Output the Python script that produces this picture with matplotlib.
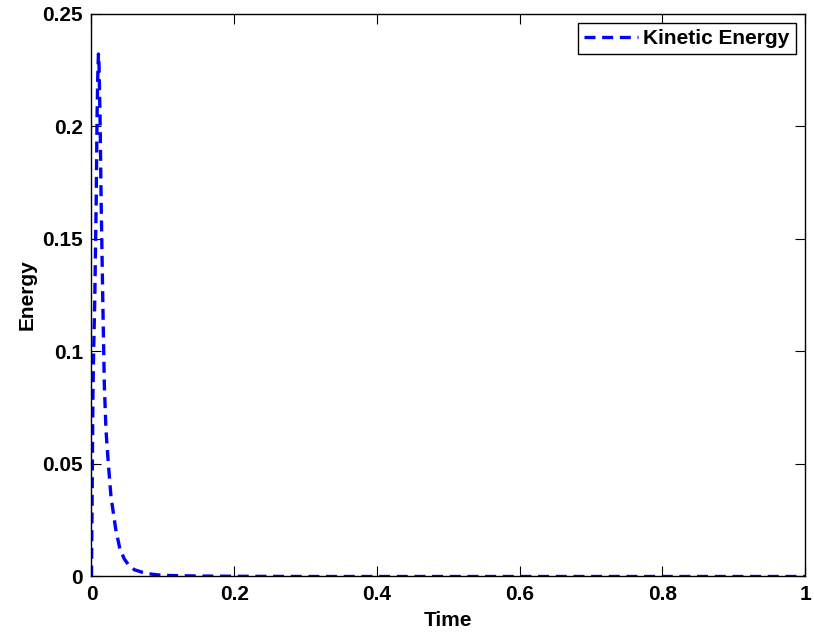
import matplotlib
matplotlib.use("Agg")
import matplotlib.pyplot as plt

# kinetic energy history: sharp rise to the peak, then fast decay to ~0
time = [0.0, 0.001, 0.002, 0.003, 0.0046, 0.0066, 0.0078, 0.0088, 0.0097,
        0.0105, 0.012, 0.0135, 0.0158, 0.018, 0.0203, 0.0235, 0.0273,
        0.034, 0.040, 0.046, 0.0516, 0.060, 0.072, 0.085, 0.10, 0.15,
        0.20, 0.30, 0.40, 0.50, 0.60, 0.70, 0.80, 0.90, 1.0]
kinetic = [0.0, 0.040, 0.080, 0.100, 0.123, 0.167, 0.204, 0.222, 0.232,
           0.228, 0.204, 0.167, 0.123, 0.085, 0.065, 0.0506, 0.0355,
           0.0209, 0.012, 0.0078, 0.0053, 0.0030, 0.0018, 0.0010, 0.0005, 0.0002,
           0.0001, 0.0, 0.0, 0.0, 0.0, 0.0, 0.0, 0.0, 0.0]

xticks = [0, 0.2, 0.4, 0.6, 0.8, 1]
xticklabels = ["0", "0.2", "0.4", "0.6", "0.8", "1"]
yticks = [0, 0.05, 0.1, 0.15, 0.2, 0.25]
yticklabels = ["0", "0.05", "0.1", "0.15", "0.2", "0.25"]

plt.rcParams["font.family"] = ["Liberation Sans", "DejaVu Sans"]
plt.rcParams["font.weight"] = "bold"
plt.rcParams["font.size"] = 15

fig = plt.figure(figsize=(8.14, 6.34), dpi=100)
ax = fig.add_axes([0.1124, 0.0907, 0.8766, 0.888])

ax.plot(time, kinetic, color="#0000ff", linewidth=2.4, dashes=(3.3, 2.0),
        label="Kinetic Energy")

ax.set_xlim(0, 1)
ax.set_ylim(0, 0.25)
ax.set_xticks(xticks)
ax.set_xticklabels(xticklabels)
ax.set_yticks(yticks)
ax.set_yticklabels(yticklabels)
ax.tick_params(direction="in", length=7, width=0.8, top=True, right=True,
               labelsize=15, pad=6)
for s in ax.spines.values():
    s.set_linewidth(1.0)

ax.set_xlabel("Time", fontweight="bold", fontsize=15, labelpad=5)
ax.set_ylabel("Energy", fontweight="bold", fontsize=15, labelpad=4)

leg = ax.legend(loc="upper right", fontsize=15, handlelength=2.6,
                handletextpad=0.25, borderpad=0.3, fancybox=False,
                framealpha=1, edgecolor="black", borderaxespad=0.45)
leg.get_frame().set_linewidth(1.0)

fig.savefig("out.png", dpi=100)
